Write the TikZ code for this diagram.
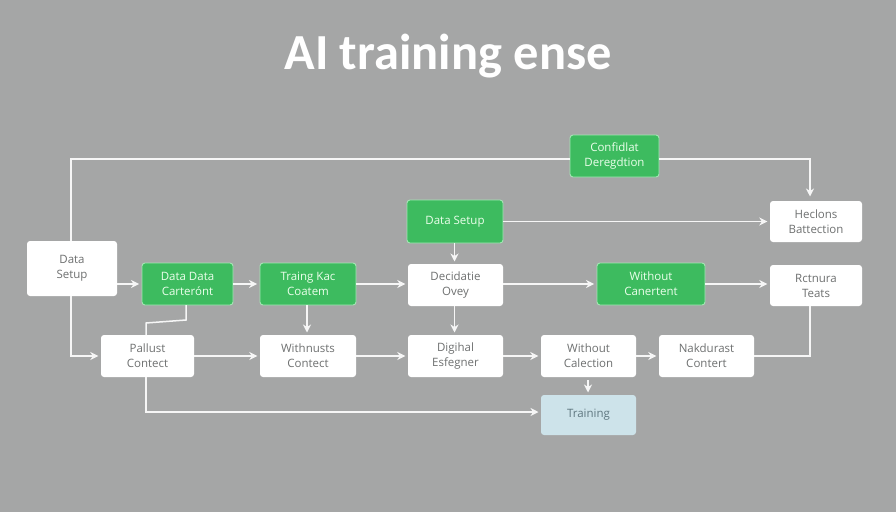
\documentclass[tikz,border=0pt]{standalone}
\usepackage{fontspec}
\setmainfont{Open Sans}
\newfontfamily\titlefont{Carlito}
\usetikzlibrary{arrows.meta}
\definecolor{bggray}{HTML}{A5A6A6}
\definecolor{boxgreen}{HTML}{3DBB5F}
\definecolor{edgegreen}{HTML}{A4E6B4}
\definecolor{lblue}{HTML}{CDE3EA}
\definecolor{txtgray}{HTML}{6E7070}
\definecolor{txtblue}{HTML}{5F7780}
\tikzset{
  base/.style={rounded corners=3pt,align=center,font=\fontsize{11.5}{15}\selectfont,inner sep=0pt,anchor=center},
  wbox/.style={base,fill=white,text=txtgray},
  gbox/.style={base,fill=boxgreen,draw=edgegreen,line width=0.9pt,text=white!92!green},
  bbox/.style={base,fill=lblue,text=txtblue},
  conn/.style={draw=white!93!gray,line width=1.5pt},
  arr/.style={conn,shorten >=2.5pt,-{Stealth[length=8pt,width=8pt,inset=2.5pt]}}
}
\newcommand{\pbox}[7]{\node[#1,minimum width=#4-#3 pt,minimum height=#6-#5 pt] (#2) at ({(#3+#4)/2},{(#5+#6)/2}) {#7};}
\begin{document}
\begin{tikzpicture}[x=1pt,y=-1pt]
\path[use as bounding box,fill=bggray] (0,0) rectangle (896,512);
\node[text=white,font=\fontsize{50.5}{53}\selectfont\titlefont\bfseries,inner sep=0pt] (title) at (448,56) {AI training ense};
\pbox{wbox}{setup}{27}{117}{241}{296}{Data\\Setup}
\pbox{gbox}{dd}{142}{233}{263}{305}{Data Data\\Carterónt}
\pbox{gbox}{tr}{260}{356}{263}{305}{Traing Kac\\Coatem}
\pbox{wbox}{dec}{408}{503}{264}{306}{Decidatie\\Ovey}
\pbox{gbox}{ds}{407}{503}{200}{243}{Data Setup}
\pbox{gbox}{conf}{570}{659}{135}{177}{Confidlat\\Deregdtion}
\pbox{wbox}{hec}{770}{862}{201}{242}{Heclons\\Battection}
\pbox{gbox}{wo}{597}{705}{263}{305}{Without\\Canertent}
\pbox{wbox}{rct}{770}{862}{265}{306}{Rctnura\\Teats}
\pbox{wbox}{pal}{101}{194}{335}{377}{Pallust\\Contect}
\pbox{wbox}{wn}{260}{356}{335}{377}{Withnusts\\Contect}
\pbox{wbox}{dig}{408}{503}{335}{377}{Digihal\\Esfegner}
\pbox{wbox}{wc}{541}{636}{335}{377}{Without\\Calection}
\pbox{wbox}{nak}{659}{754}{335}{377}{Nakdurast\\Contert}
\pbox{bbox}{trn}{541}{636}{395}{435}{Training}
\coordinate (ddout) at (186,305);
\coordinate (palin) at (146,335);
\coordinate (palout) at (146,377);
\coordinate (hecin) at (810,199);
\coordinate (rctin) at (810,306);
\coordinate (decin) at (454.5,264);
\coordinate (digin) at (454.5,335);
\coordinate (dsout) at (454.5,243);
\coordinate (decout) at (454.5,306);
\coordinate (trout) at (307,305);
\coordinate (wnin) at (307,335);
\coordinate (setupL) at (71,241);
\coordinate (setupB) at (71,296);
\coordinate (wcout) at (588,380);
\coordinate (trnin) at (588,395);
\coordinate (confL) at (570,159);
\coordinate (confR) at (659,159);
\coordinate (trnL) at (541,412);
\draw[conn] (setupL) |- (confL);
\draw[arr] (confR) -| (hecin);
\draw[arr] (ds.east) -- (hec.west);
\draw[arr] (dsout) -- (decin);
\draw[arr] (setup.east |- dd.west) -- (dd.west);
\draw[arr] (dd.east) -- (tr.west);
\draw[arr] (tr.east) -- (dec.west |- tr.east);
\draw[arr] (dec.east |- wo.west) -- (wo.west);
\draw[arr] (wo.east) -- (rct.west |- wo.east);
\draw[conn] (ddout) -- (186,320) -- (146,323) -- (palin);
\draw[arr] (trout) -- (wnin);
\draw[arr] (decout) -- (digin);
\draw[arr] (setupB) |- (pal.west);
\draw[arr] (pal.east) -- (wn.west);
\draw[arr] (wn.east) -- (dig.west);
\draw[arr] (dig.east) -- (wc.west);
\draw[arr] (wc.east) -- (nak.west);
\draw[conn] (nak.east) -| (rctin);
\draw[arr] (wcout) -- (trnin);
\draw[arr] (palout) |- (trnL);
\end{tikzpicture}
\end{document}
